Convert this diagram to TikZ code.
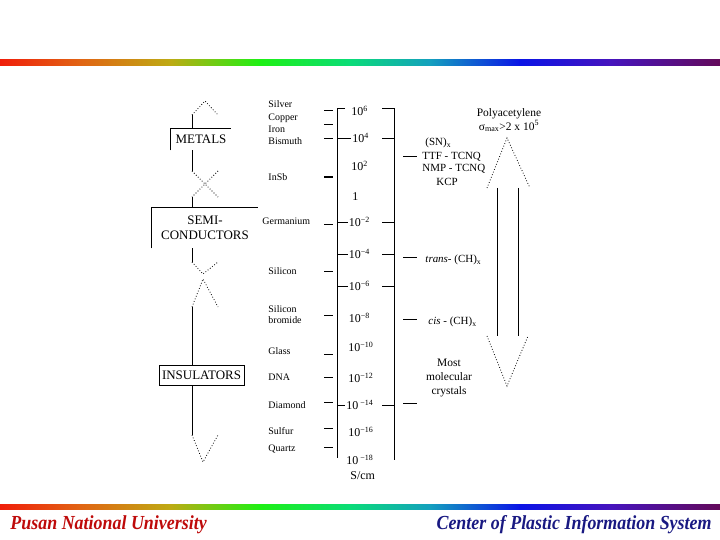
\documentclass[tikz,border=0pt]{standalone}
\usepackage{fontspec}
\setmainfont{Liberation Serif}
\definecolor{bar0}{RGB}{240,30,10}
\definecolor{bar1}{RGB}{225,100,20}
\definecolor{bar2}{RGB}{190,170,20}
\definecolor{bar3}{RGB}{30,240,20}
\definecolor{bar4}{RGB}{10,220,120}
\definecolor{bar5}{RGB}{20,160,190}
\definecolor{bar6}{RGB}{10,20,230}
\definecolor{bar7}{RGB}{70,20,190}
\definecolor{bar8}{RGB}{100,10,90}
\definecolor{pnured}{RGB}{190,10,10}
\definecolor{cpisblue}{RGB}{25,25,130}
\begin{document}
\begin{tikzpicture}[x=1bp, y=-1bp, line width=0.9bp,
    dots/.style={dotted, line width=0.8bp},
    clsbox/.style={font=\fontsize{13}{15}\selectfont, inner sep=0pt, align=center},
    matlbl/.style={font=\fontsize{10}{11}\selectfont, anchor=west, inner sep=0pt, align=left},
    vallbl/.style={font=\fontsize{12}{12}\selectfont, anchor=west, inner sep=1bp},
    notelbl/.style={font=\fontsize{11}{12}\selectfont, inner sep=0pt},
    footlbl/.style={font=\fontsize{20}{22}\selectfont\bfseries\itshape, inner sep=0pt}]

    \useasboundingbox (0,0) rectangle (720,540);

    % Rainbow bars, top and bottom
    \foreach \ya/\yb in {59.5/65.5, 504/509}
      \foreach \xa/\xb/\ca/\cb in {0/80/bar0/bar1, 80/170/bar1/bar2, 170/260/bar2/bar3,
          260/350/bar3/bar4, 350/430/bar4/bar5, 430/520/bar5/bar6, 520/610/bar6/bar7, 610/720/bar7/bar8}
        \shade[left color=\ca, right color=\cb] (\xa-0.3,\ya) rectangle (\xb+0.3,\yb);

    % Footer
    \node[footlbl, text=pnured, anchor=base west] (pnu) at (10,529)
      {\scalebox{0.9}[1]{Pusan National University}};
    \node[footlbl, text=cpisblue, anchor=base east] (cpis) at (712,529)
      {\scalebox{0.9}[1]{Center of Plastic Information System}};

    % Classes of materials
    \node[clsbox, minimum width=60bp, minimum height=21bp] (metals) at (201,139.5) {METALS};
    \draw (metals.south west) -- (metals.north west) -- (metals.north east);
    \node[clsbox, minimum width=106bp, minimum height=40bp] (semi) at (205,228) {SEMI-\\CONDUCTORS};
    \draw (semi.south west) -- (semi.north west) -- (semi.north east);
    \node[clsbox, draw, minimum width=85bp, minimum height=20bp] (ins) at (201.5,375) {INSULATORS};

    % Spine with broken parts
    \coordinate (sp) at (192,0);
    \draw[dots] (192,115) -- (205,101) -- (218,115);
    \draw (192,115) -- (sp |- metals.north);
    \draw (sp |- metals.south) -- (192,171);
    \draw[dots] (192,171) -- (218,197) (218,171) -- (192,197);
    \draw (192,197) -- (sp |- semi.north);
    \draw (sp |- semi.south) -- (192,262);
    \draw[dots] (192,262) -- (203,274) -- (218,262) (192,307) -- (203,279) -- (218,307);
    \draw (192,307) -- (sp |- ins.north);
    \draw (sp |- ins.south) -- (192,435);
    \draw[dots] (192,435) -- (203,462) -- (218,435);

    % Conductivity scale
    \coordinate (axL) at (337,108);
    \coordinate (axR) at (394,108);
    \coordinate (rtk) at (382,108);
    \draw (345,108) -- (axL) -- (337,458);
    \draw (rtk) -- (axR) -- (394,460);

    \foreach \x/\y/\t/\n in {350/111/10\textsuperscript{6}/s6, 351/138/10\textsuperscript{4}/s4,
        350/166/10\textsuperscript{2}/s2, 351/197/1/s0, 347.5/222/10\textsuperscript{−2}/sm2,
        347.5/254/10\textsuperscript{−4}/sm4, 347.5/286/10\textsuperscript{−6}/sm6,
        347.5/318/10\textsuperscript{−8}/sm8, 347/347/10\textsuperscript{−10}/sm10,
        347/378/10\textsuperscript{−12}/sm12, 345/405/10\textsuperscript{ −14}/sm14,
        347/432/10\textsuperscript{−16}/sm16, 345/460/10\textsuperscript{ −18}/sm18}
      \node[vallbl] (\n) at (\x,\y) {\t};
    \node[vallbl] (unit) at (349,476) {S/cm};

    \foreach \n in {s4, sm2, sm4, sm6, sm14}
      \draw (axL |- \n.west) -- (\n.west) (rtk |- \n.east) -- (axR |- \n.east);

    % Materials, left of the scale
    \foreach \y in {110,124,138,224,271,315,354,377,402,428,447}
      \draw (324,\y) -- (333,\y);
    \draw[line width=2bp] (324,177) -- (333,177);

    \foreach \y/\t/\n in {104/Silver/ag, 118/Copper/cu, 129/Iron/fe, 141/Bismuth/bi,
        177/InSb/insb, 271/Silicon/si, 351/Glass/glass, 377/DNA/dna,
        405/Diamond/dia, 431/Sulfur/sul, 449/Quartz/qz}
      \node[matlbl] (\n) at (268,\y) {\t};
    \node[matlbl] (ge) at (262,221) {Germanium};
    \node[matlbl] (sibr) at (268,314.5) {Silicon\\bromide};

    % Conductors, right of the scale
    \foreach \y in {156,257,319,403}
      \draw (403,\y) -- (417,\y);
    \node[notelbl, anchor=west] (snx) at (425,143) {(SN)\textsubscript{x}};
    \node[notelbl, anchor=west] (ttf) at (422,157) {TTF - TCNQ};
    \node[notelbl, anchor=west] (nmp) at (422,169) {NMP - TCNQ};
    \node[notelbl] (kcp) at (447,182) {KCP};
    \node[notelbl, anchor=west] (trans) at (425,260) {\textit{trans}- (CH)\textsubscript{x}};
    \node[notelbl, anchor=west] (cis) at (428,322) {\textit{cis} - (CH)\textsubscript{x}};
    \node[notelbl, align=center, font=\fontsize{11.5}{14}\selectfont] (mmc) at (449,378)
      {Most\\molecular\\crystals};
    \node[notelbl, align=center, font=\fontsize{11.5}{14}\selectfont] (pa) at (509,120)
      {Polyacetylene\\σ\textsubscript{max}>2 x 10\textsuperscript{5}};

    % Range of polyacetylene
    \draw[dots] (487,188) -- (507,138) -- (530,188);
    \draw (497,188) -- (497,336) (518,188) -- (518,336);
    \draw[dots] (487,336) -- (507,386) -- (528,336);
\end{tikzpicture}
\end{document}
